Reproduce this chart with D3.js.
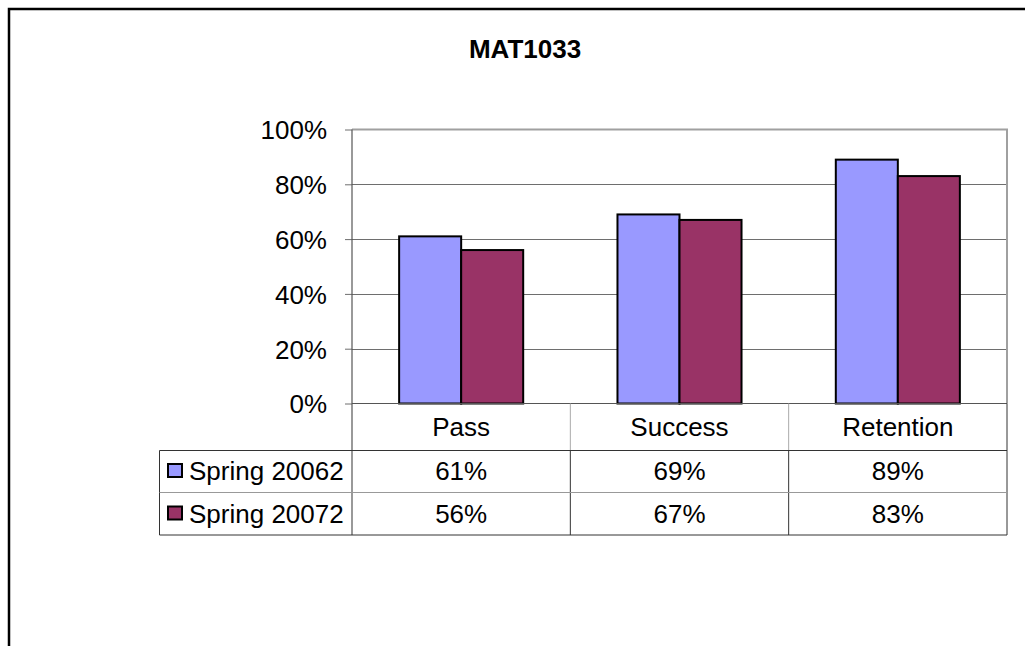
<!DOCTYPE html>
<html>
<head>
<meta charset="utf-8">
<script src="https://cdn.jsdelivr.net/npm/d3@7"></script>
<style>
  html, body { margin: 0; padding: 0; background: #fff; }
  svg { display: block; font-family: "Liberation Sans", Arial, sans-serif; }
</style>
</head>
<body>
<div id="chart"></div>
<script>
// chart data
const title = "MAT1033";
const categories = ["Pass", "Success", "Retention"];
const seriesNames = ["Spring 20062", "Spring 20072"];
const spring20062 = [0.61, 0.69, 0.89];
const spring20072 = [0.56, 0.67, 0.83];
const yTicks = [0, 0.2, 0.4, 0.6, 0.8, 1.0];
const seriesColors = ["#9999ff", "#993366"];

const width = 1025, height = 646;
const plot = { left: 352, right: 1007, top: 129.5, bottom: 403.5 };
const table = { left: 159.5, headerBottom: 450.5, row1Bottom: 492.5, row2Bottom: 535 };
const fontSize = "26px";

const svg = d3.select("#chart")
    .append("svg")
    .attr("width", width)
    .attr("height", height);

// outer frame (runs off the right and bottom of the picture)
svg.append("rect")
    .attr("x", 9)
    .attr("y", 9)
    .attr("width", width + 20)
    .attr("height", height + 20)
    .attr("fill", "none")
    .attr("stroke", "#000")
    .attr("stroke-width", 2.5);

svg.append("text")
    .attr("x", 525)
    .attr("y", 58)
    .attr("text-anchor", "middle")
    .attr("font-size", "26px")
    .attr("font-weight", "bold")
    .text(title);

// scales
const y = d3.scaleLinear().domain([0, 1]).range([plot.bottom, plot.top]);
const x = d3.scaleBand().domain(categories).range([plot.left, plot.right]).padding(0);
const xs = d3.scaleBand().domain(seriesNames).range([0, x.bandwidth()])
    .paddingInner(0).paddingOuter(0.76);

// gridlines
svg.append("g")
    .selectAll("line")
    .data(yTicks.filter(d => d > 0 && d < 1))
    .join("line")
    .attr("x1", plot.left).attr("x2", plot.right)
    .attr("y1", d => Math.round(y(d)) + 0.5).attr("y2", d => Math.round(y(d)) + 0.5)
    .attr("stroke", "#6e6e6e")
    .attr("stroke-width", 1);

// plot frame top/right
svg.append("path")
    .attr("d", `M${plot.left},${plot.top}H${plot.right}V${plot.bottom}`)
    .attr("fill", "none")
    .attr("stroke", "#a0a0a0")
    .attr("stroke-width", 2);

// y axis
const yAxis = svg.append("g")
    .attr("transform", `translate(${plot.left},0)`)
    .call(d3.axisLeft(y).tickValues(yTicks).tickFormat(d3.format(".0%")).tickSize(7).tickPadding(18));
yAxis.select(".domain").remove();
yAxis.selectAll(".tick line").attr("stroke", "#6e6e6e");
yAxis.selectAll(".tick text")
    .attr("font-size", fontSize)
    .attr("font-family", "Liberation Sans, Arial, sans-serif")
    .attr("fill", "#000")
    .attr("dy", "0.36em");

// bars
const seriesData = [spring20062, spring20072];
seriesData.forEach((vals, si) => {
    svg.append("g")
        .selectAll("rect")
        .data(vals)
        .join("rect")
        .attr("x", (d, i) => x(categories[i]) + xs(seriesNames[si]))
        .attr("y", d => y(d))
        .attr("width", xs.bandwidth())
        .attr("height", d => plot.bottom - y(d))
        .attr("fill", seriesColors[si])
        .attr("stroke", "#000")
        .attr("stroke-width", 2);
});

// left axis line (continues through the table)
svg.append("line")
    .attr("x1", plot.left).attr("x2", plot.left)
    .attr("y1", plot.top).attr("y2", table.row2Bottom)
    .attr("stroke", "#555")
    .attr("stroke-width", 1.2);

// x axis baseline
svg.append("line")
    .attr("x1", plot.left).attr("x2", plot.right)
    .attr("y1", plot.bottom).attr("y2", plot.bottom)
    .attr("stroke", "#555")
    .attr("stroke-width", 1.2);

// data table
const grid = svg.append("g");
// header column dividers (light)
grid.selectAll(".hdiv")
    .data(categories.slice(1))
    .join("line")
    .attr("x1", d => x(d)).attr("x2", d => x(d))
    .attr("y1", plot.bottom).attr("y2", table.headerBottom)
    .attr("stroke", "#aaa");
// body column dividers
grid.selectAll(".bdiv")
    .data(categories.slice(1))
    .join("line")
    .attr("x1", d => x(d)).attr("x2", d => x(d))
    .attr("y1", table.headerBottom).attr("y2", table.row2Bottom)
    .attr("stroke", "#333");
// right edge
grid.append("line")
    .attr("x1", plot.right).attr("x2", plot.right)
    .attr("y1", plot.bottom).attr("y2", table.row2Bottom)
    .attr("stroke", "#333");
// left edge of legend column
grid.append("line")
    .attr("x1", table.left).attr("x2", table.left)
    .attr("y1", table.headerBottom).attr("y2", table.row2Bottom)
    .attr("stroke", "#333");
// horizontal rules
grid.append("line")
    .attr("x1", table.left).attr("x2", plot.right)
    .attr("y1", table.headerBottom).attr("y2", table.headerBottom)
    .attr("stroke", "#333");
grid.append("line")
    .attr("x1", table.left).attr("x2", plot.right)
    .attr("y1", table.row1Bottom).attr("y2", table.row1Bottom)
    .attr("stroke", "#999");
grid.append("line")
    .attr("x1", table.left).attr("x2", plot.right)
    .attr("y1", table.row2Bottom).attr("y2", table.row2Bottom)
    .attr("stroke", "#333");

// header labels
svg.append("g")
    .selectAll("text")
    .data(categories)
    .join("text")
    .attr("x", d => x(d) + x.bandwidth() / 2)
    .attr("y", 436)
    .attr("text-anchor", "middle")
    .attr("font-size", fontSize)
    .text(d => d);

// rows
const rowBaselines = [480, 522.5];
const fmt = d3.format(".0%");
seriesData.forEach((vals, si) => {
    const row = svg.append("g");
    row.selectAll("text.val")
        .data(vals)
        .join("text")
        .attr("class", "val")
        .attr("x", (d, i) => x(categories[i]) + x.bandwidth() / 2)
        .attr("y", rowBaselines[si])
        .attr("text-anchor", "middle")
        .attr("font-size", fontSize)
        .text(d => fmt(d));
    row.append("rect")
        .attr("x", 168)
        .attr("y", rowBaselines[si] - 16)
        .attr("width", 14)
        .attr("height", 13)
        .attr("fill", seriesColors[si])
        .attr("stroke", "#000")
        .attr("stroke-width", 2);
    row.append("text")
        .attr("x", 189)
        .attr("y", rowBaselines[si])
        .attr("font-size", fontSize)
        .text(seriesNames[si]);
});
</script>
</body>
</html>
